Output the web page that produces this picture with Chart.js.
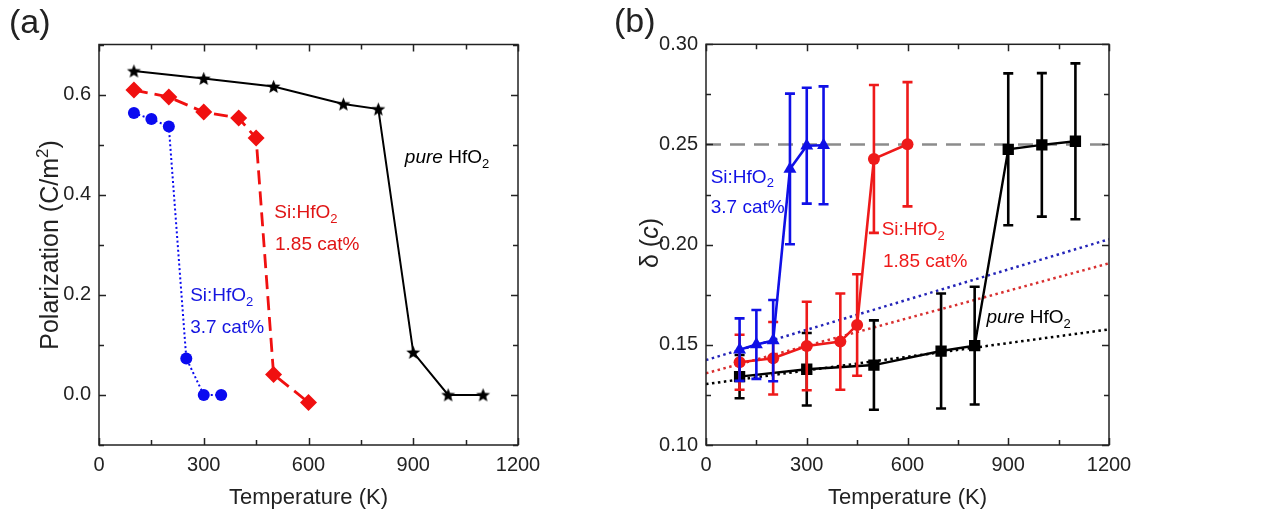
<!DOCTYPE html>
<html><head><meta charset="utf-8">
<script src="https://cdn.jsdelivr.net/npm/chart.js@4.4.0/dist/chart.umd.min.js"></script>
<style>
html,body{margin:0;padding:0;background:#fff;width:1265px;height:523px;overflow:hidden}
#ca{position:absolute;left:0;top:0}
#cb{position:absolute;left:600px;top:0}
</style></head><body>
<canvas id="ca" width="600" height="523"></canvas>
<canvas id="cb" width="665" height="523"></canvas>
<script>
// ---------- Panel (a): Polarization vs Temperature ----------
const tempsPureA = [100, 300, 500, 700, 800, 900, 1000, 1100];
const polPure    = [0.647, 0.632, 0.616, 0.581, 0.571, 0.085, 0.0, 0.0];
const temps185A  = [100, 200, 300, 400, 450, 500, 600];
const pol185     = [0.609, 0.595, 0.565, 0.553, 0.513, 0.041, -0.015];
const temps37A   = [100, 150, 200, 250, 300, 350];
const pol37      = [0.563, 0.551, 0.536, 0.073, 0.0, 0.0];

// ---------- Panel (b): delta(c) vs Temperature ----------
const temps37B   = [100, 150, 200, 250, 300, 350];
const delta37    = [0.1476, 0.1502, 0.1521, 0.2378, 0.2494, 0.2496];
const err37      = [0.0156, 0.0172, 0.0203, 0.0376, 0.0289, 0.0294];
const temps185B  = [100, 200, 300, 400, 450, 500, 600];
const delta185   = [0.1413, 0.1433, 0.1494, 0.1516, 0.1599, 0.2428, 0.2501];
const err185     = [0.0137, 0.0181, 0.0221, 0.0240, 0.0253, 0.0369, 0.0310];
const tempsPureB = [100, 300, 500, 700, 800, 900, 1000, 1100];
const deltaPure  = [0.1341, 0.1378, 0.1399, 0.1469, 0.1496, 0.2476, 0.2498, 0.2516];
const errPure    = [0.0108, 0.0181, 0.0223, 0.0287, 0.0294, 0.0379, 0.0358, 0.0389];
// dotted linear fits, read at 0 K and 1200 K
const fitTemps   = [0, 1200];
const fit37      = [0.1424, 0.2027];
const fit185     = [0.1358, 0.1907];
const fitPure    = [0.1304, 0.1577];
// dashed reference level
const refTemps   = [0, 1200];
const refDelta   = [0.25, 0.25];

// ---------- tick labels ----------
const xTickLabels  = [0, 300, 600, 900, 1200];
const yTickLabelsA = [0.0, 0.2, 0.4, 0.6];
const yTickLabelsB = [0.10, 0.15, 0.20, 0.25, 0.30];

const FONT = "'Liberation Sans', Arial, sans-serif";
const TXT = '#222';
const pts = (xs, ys) => xs.map((x, i) => ({x, y: ys[i]}));
const near = (v, arr) => arr.find(t => Math.abs(t - v) < 1e-6);

function starImage(R, color) {
  const r = R * 0.44, s = Math.ceil(2 * R + 2);
  const c = document.createElement('canvas'); c.width = s; c.height = s;
  const g = c.getContext('2d'); g.fillStyle = color; g.beginPath();
  for (let i = 0; i < 10; i++) {
    const a = -Math.PI / 2 + i * Math.PI / 5, rr = i % 2 ? r : R;
    g.lineTo(s / 2 + rr * Math.cos(a), s / 2 + 0.6 + rr * Math.sin(a));
  }
  g.closePath(); g.fill(); return c;
}

function drawRich(ctx, parts, x, y, size, color, rot, center) {
  ctx.save();
  ctx.translate(x, y);
  if (rot) ctx.rotate(rot);
  ctx.fillStyle = color; ctx.textBaseline = 'alphabetic'; ctx.textAlign = 'left';
  const f = p => `${p.it ? 'italic ' : ''}${(p.sub || p.sup) ? Math.round(size * 0.66) : size}px ${FONT}`;
  let w = 0;
  parts.forEach(p => { ctx.font = f(p); w += ctx.measureText(p.t).width; });
  let cx = center ? -w / 2 : 0;
  parts.forEach(p => {
    ctx.font = f(p);
    const dy = p.sub ? size * 0.24 : (p.sup ? -size * 0.4 : 0);
    ctx.fillText(p.t, cx, dy);
    cx += ctx.measureText(p.t).width;
  });
  ctx.restore();
}

const decor = {
  id: 'decor',
  beforeDatasetDraw(chart, args, o) {
    const ds = chart.data.datasets[args.index];
    if (!ds.errors) return;
    const {ctx, scales: {x, y}} = chart;
    ctx.save();
    ctx.strokeStyle = ds.borderColor; ctx.lineWidth = 2.6; ctx.lineCap = 'butt';
    ds.data.forEach((p, i) => {
      const e = ds.errors[i];
      const px = x.getPixelForValue(p.x);
      const y1 = y.getPixelForValue(p.y + e), y2 = y.getPixelForValue(p.y - e);
      ctx.beginPath();
      ctx.moveTo(px, y1); ctx.lineTo(px, y2);
      ctx.moveTo(px - 5, y1); ctx.lineTo(px + 5, y1);
      ctx.moveTo(px - 5, y2); ctx.lineTo(px + 5, y2);
      ctx.stroke();
    });
    ctx.restore();
  },
  afterDraw(chart, args, o) {
    const {ctx, chartArea: a, scales: {x, y}} = chart;
    ctx.save();
    ctx.strokeStyle = '#222'; ctx.lineWidth = 1.5;
    ctx.strokeRect(a.left, a.top, a.right - a.left, a.bottom - a.top);
    ctx.beginPath();
    x.ticks.forEach(t => {
      const p = Math.round(x.getPixelForValue(t.value)) + 0.5;
      const L = near(t.value, o.xMajor) !== undefined ? 7 : 5;
      ctx.moveTo(p, a.bottom); ctx.lineTo(p, a.bottom - L);
      ctx.moveTo(p, a.top); ctx.lineTo(p, a.top + L);
    });
    y.ticks.forEach(t => {
      const p = Math.round(y.getPixelForValue(t.value)) + 0.5;
      const L = near(t.value, o.yMajor) !== undefined ? 7 : 5;
      ctx.moveTo(a.left, p); ctx.lineTo(a.left + L, p);
      ctx.moveTo(a.right, p); ctx.lineTo(a.right - L, p);
    });
    ctx.stroke();
    ctx.restore();
    // annotations in data coordinates
    (o.notes || []).forEach(n => {
      drawRich(ctx, n.parts, x.getPixelForValue(n.x), y.getPixelForValue(n.y), n.size, n.color, 0, false);
    });
    // y title
    drawRich(ctx, o.yTitle.parts, o.yTitle.x, o.yTitle.y, o.yTitle.size, TXT, -Math.PI / 2, true);
    // panel label
    ctx.save();
    ctx.font = `34px ${FONT}`; ctx.fillStyle = TXT; ctx.textBaseline = 'alphabetic';
    ctx.fillText(o.panel.t, o.panel.x, o.panel.y);
    ctx.restore();
  }
};

function xScale() {
  return {
    type: 'linear', min: 0, max: 1200,
    afterFit(s) { s.height = 78; },
    grid: {display: false, drawTicks: false}, border: {display: false},
    ticks: {stepSize: 150, autoSkip: false, maxRotation: 0, padding: 8, color: TXT,
      font: {family: FONT, size: 20},
      callback: v => { const t = near(v, xTickLabels); return t === undefined ? '' : String(t); }},
    title: {display: true, text: 'Temperature (K)', color: TXT, font: {family: FONT, size: 22}, padding: {top: 0, bottom: 12}}
  };
}

// ---------- Chart (a) ----------
new Chart(document.getElementById('ca'), {
  type: 'line',
  data: {datasets: [
    {data: pts(temps37A, pol37), borderColor: '#0a0af0', backgroundColor: '#0a0af0', borderWidth: 2,
     borderDash: [2, 2.6], pointStyle: 'circle', pointRadius: 6, pointBorderWidth: 0, order: 1},
    {data: pts(temps185A, pol185), borderColor: '#f01010', backgroundColor: '#f01010', borderWidth: 2.8,
     borderDash: [14, 7], pointStyle: 'rectRot', pointRadius: 8.5, pointBorderWidth: 0, order: 2},
    {data: pts(tempsPureA, polPure), borderColor: '#000', backgroundColor: '#000', borderWidth: 2,
     pointStyle: starImage(7.3, '#000'), pointRadius: 7, pointBorderWidth: 0, order: 3}
  ]},
  options: {
    responsive: false, animation: false,
    layout: {padding: {top: 44.5, right: 82, left: 0, bottom: 0}},
    plugins: {legend: {display: false}, tooltip: {enabled: false},
      decor: {
        xMajor: xTickLabels, yMajor: yTickLabelsA,
        yTitle: {parts: [{t: 'Polarization (C/m'}, {t: '2', sup: true}, {t: ')'}], x: 58, y: 245, size: 25},
        panel: {t: '(a)', x: 9, y: 33},
        notes: [
          {x: 876, y: 0.463, size: 19, color: '#000', parts: [{t: 'pure', it: true}, {t: ' HfO'}, {t: '2', sub: true}]},
          {x: 502, y: 0.353, size: 19, color: '#e01515', parts: [{t: 'Si:HfO'}, {t: '2', sub: true}]},
          {x: 504, y: 0.290, size: 19, color: '#e01515', parts: [{t: '1.85 cat%'}]},
          {x: 261, y: 0.187, size: 19, color: '#1515e0', parts: [{t: 'Si:HfO'}, {t: '2', sub: true}]},
          {x: 261, y: 0.123, size: 19, color: '#1515e0', parts: [{t: '3.7 cat%'}]}
        ]
      }
    },
    scales: {
      x: xScale(),
      y: {type: 'linear', min: -0.1, max: 0.7,
        afterFit(s) { s.width = 99; },
        grid: {display: false, drawTicks: false}, border: {display: false},
        ticks: {stepSize: 0.1, autoSkip: false, padding: 8, color: TXT, font: {family: FONT, size: 20},
          callback: v => { const t = near(v, yTickLabelsA); return t === undefined ? '' : t.toFixed(1); }},
        title: {display: false}}
    }
  },
  plugins: [decor]
});

// ---------- Chart (b) ----------
const BLUE = '#1010e6', RED = '#ee1a1a';
new Chart(document.getElementById('cb'), {
  type: 'line',
  data: {datasets: [
    {data: pts(temps37B, delta37), errors: err37, borderColor: BLUE, backgroundColor: BLUE, borderWidth: 2.6,
     pointStyle: 'triangle', pointRadius: 7.5, pointBorderWidth: 0, order: 1},
    {data: pts(temps185B, delta185), errors: err185, borderColor: RED, backgroundColor: RED, borderWidth: 2.6,
     pointStyle: 'circle', pointRadius: 6, pointBorderWidth: 0, order: 2},
    {data: pts(tempsPureB, deltaPure), errors: errPure, borderColor: '#000', backgroundColor: '#000', borderWidth: 2.4,
     pointStyle: 'rect', pointRadius: 8, pointBorderWidth: 0, order: 3},
    {data: pts(fitTemps, fit37), borderColor: '#2424b8', borderWidth: 2.5, borderDash: [2.5, 3.5], pointRadius: 0, order: 5},
    {data: pts(fitTemps, fit185), borderColor: '#d83030', borderWidth: 2.5, borderDash: [2.5, 3.5], pointRadius: 0, order: 6},
    {data: pts(fitTemps, fitPure), borderColor: '#000', borderWidth: 2.5, borderDash: [2.5, 3.5], pointRadius: 0, order: 4},
    {data: pts(refTemps, refDelta), borderColor: '#8c8c8c', borderWidth: 2.6, borderDash: [15, 9], pointRadius: 0, order: 10}
  ]},
  options: {
    responsive: false, animation: false,
    layout: {padding: {top: 44.3, right: 156, left: 0, bottom: 0}},
    plugins: {legend: {display: false}, tooltip: {enabled: false},
      decor: {
        xMajor: xTickLabels, yMajor: yTickLabelsB,
        yTitle: {parts: [{t: 'δ ('}, {t: 'c', it: true}, {t: ')'}], x: 58, y: 243, size: 25},
        panel: {t: '(b)', x: 14, y: 32},
        notes: [
          {x: 14, y: 0.2309, size: 19, color: BLUE, parts: [{t: 'Si:HfO'}, {t: '2', sub: true}]},
          {x: 14, y: 0.2156, size: 19, color: BLUE, parts: [{t: '3.7 cat%'}]},
          {x: 523, y: 0.2048, size: 19, color: RED, parts: [{t: 'Si:HfO'}, {t: '2', sub: true}]},
          {x: 527, y: 0.1890, size: 19, color: RED, parts: [{t: '1.85 cat%'}]},
          {x: 835, y: 0.1607, size: 19, color: '#000', parts: [{t: 'pure', it: true}, {t: ' HfO'}, {t: '2', sub: true}]}
        ]
      }
    },
    scales: {
      x: xScale(),
      y: {type: 'linear', min: 0.1, max: 0.3,
        afterFit(s) { s.width = 106; },
        grid: {display: false, drawTicks: false}, border: {display: false},
        ticks: {stepSize: 0.025, autoSkip: false, padding: 8, color: TXT, font: {family: FONT, size: 20},
          callback: v => { const t = near(v, yTickLabelsB); return t === undefined ? '' : t.toFixed(2); }},
        title: {display: false}}
    }
  },
  plugins: [decor]
});
</script>
</body></html>
